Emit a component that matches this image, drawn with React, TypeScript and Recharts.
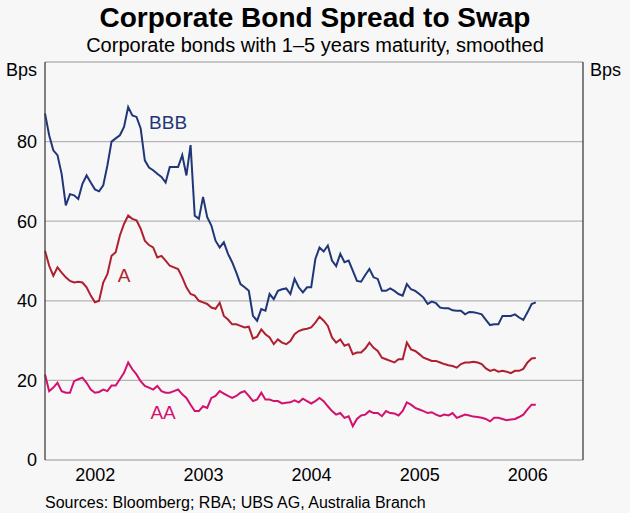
import { LineChart, Line, XAxis, YAxis, CartesianGrid, ReferenceDot } from "recharts";

// Fortnightly observations, first one mid-January 2002
const START_YEAR = 2002.035;
const STEP = 1 / 26;

// Spreads to swap, basis points
const BBB = [
  87.1, 81.6, 77.8, 76.6, 71.9, 64.0, 66.8, 66.5, 65.6, 69.4,
  71.5, 69.7, 68.0, 67.5, 69.0, 74.0, 80.0, 80.8, 81.6, 83.7,
  88.7, 86.6, 86.2, 83.3, 75.3, 73.5, 72.8, 71.9, 71.1, 69.7,
  73.6, 73.6, 73.6, 76.6, 71.5, 79.1, 61.4, 60.6, 66.1, 61.0,
  58.9, 55.1, 53.4, 54.7, 51.8, 49.7, 47.1, 44.2, 43.4, 42.5,
  36.2, 35.0, 37.9, 37.5, 41.7, 40.4, 42.5, 42.9, 43.1, 41.7,
  45.5, 43.4, 42.1, 43.4, 43.4, 50.5, 53.4, 52.4, 53.9, 50.1,
  48.7, 51.8, 49.7, 50.1, 47.6, 45.0, 44.8, 46.5, 48.0, 45.9,
  45.5, 42.5, 42.5, 43.1, 42.5, 41.7, 41.3, 44.2, 42.9, 42.5,
  41.7, 40.8, 39.2, 39.8, 39.4, 38.3, 38.1, 38.1, 37.6, 37.5,
  37.5, 36.6, 37.2, 37.1, 36.9, 36.6, 35.2, 33.9, 34.1, 34.1,
  36.2, 36.2, 36.2, 36.6, 35.8, 35.2, 37.1, 39.2, 39.6,
];

const A_RATED = [
  52.6, 48.8, 46.3, 48.4, 47.1, 45.9, 45.0, 44.6, 44.8, 44.6,
  43.4, 41.3, 39.6, 40.0, 44.6, 46.7, 51.3, 52.2, 56.4, 59.3,
  61.4, 60.6, 60.2, 58.1, 55.1, 54.0, 53.4, 50.9, 51.3, 50.1,
  48.8, 48.4, 48.0, 45.9, 43.4, 41.7, 41.3, 40.0, 39.6, 39.2,
  38.3, 38.0, 39.5, 36.2, 35.3, 34.1, 34.1, 33.7, 33.3, 33.5,
  30.5, 31.0, 32.8, 31.6, 30.8, 29.1, 30.3, 29.5, 29.1, 29.9,
  31.6, 32.4, 32.8, 33.0, 33.3, 34.5, 36.0, 35.0, 33.7, 30.8,
  29.5, 30.3, 28.7, 29.1, 26.6, 27.0, 27.0, 28.0, 29.5, 28.2,
  27.4, 25.7, 25.3, 24.9, 24.5, 25.3, 25.3, 29.5, 27.8, 27.4,
  26.6, 25.7, 25.3, 24.9, 24.9, 24.5, 24.1, 23.8, 23.6, 23.2,
  24.1, 24.5, 24.5, 24.7, 24.5, 24.1, 23.0, 22.4, 22.7, 22.2,
  22.4, 22.2, 21.8, 22.4, 22.4, 22.9, 24.5, 25.5, 25.6,
];

const AA = [
  21.5, 17.3, 18.2, 19.4, 17.3, 16.9, 16.9, 19.8, 20.3, 20.7,
  19.4, 17.7, 16.9, 17.1, 17.7, 17.3, 18.7, 18.7, 20.3, 21.9,
  24.5, 22.8, 21.5, 19.8, 18.6, 18.2, 17.7, 18.6, 17.3, 16.9,
  16.9, 17.3, 17.7, 16.5, 15.6, 13.9, 12.3, 12.3, 13.5, 13.1,
  15.6, 16.1, 17.3, 16.7, 16.1, 15.6, 16.1, 16.9, 17.3, 16.1,
  14.8, 15.2, 16.9, 15.2, 15.2, 14.8, 14.8, 14.2, 14.4, 14.5,
  15.0, 14.5, 15.4, 14.8, 14.2, 14.8, 15.6, 14.8, 13.5, 12.3,
  11.4, 11.8, 10.6, 11.0, 8.5, 10.3, 11.2, 11.4, 12.3, 11.8,
  11.8, 11.0, 12.3, 11.8, 11.7, 11.2, 12.3, 14.5, 13.9, 13.1,
  12.7, 12.3, 11.8, 12.0, 11.4, 11.0, 11.4, 11.2, 11.8, 10.6,
  11.0, 11.4, 11.2, 10.9, 10.8, 10.6, 10.3, 9.7, 10.6, 10.6,
  10.3, 10.0, 10.2, 10.3, 10.8, 11.4, 12.7, 13.9, 13.9,
];

const YEAR_TICKS = [2003, 2004, 2005, 2006];
const YEAR_LABELS = [2002.5, 2003.5, 2004.5, 2005.5, 2006.5];
const Y_TICKS = [0, 20, 40, 60, 80];
const X_DOMAIN: [number, number] = [2002.035, 2007.01];

const NAVY = "#1f3778";
const RED = "#b01f2e";
const PINK = "#d4106f";
const BORDER = "#404040";
const GRID = "#b4b4b4";
const BG = "#f7f7f7";
const FONT = "'Liberation Sans', Arial, sans-serif";

const data = BBB.map((v, i) => ({
  t: START_YEAR + i * STEP,
  bbb: v,
  a: A_RATED[i],
  aa: AA[i],
}));

const tickStyle = { fill: "#000", fontSize: 18 };
const axisLine = { stroke: BORDER, strokeWidth: 1.3 };

const seriesLabel = (value: string, fill: string) => ({
  value,
  position: "center" as const,
  fill,
  fontSize: 19,
});

export default function App() {
  return (
    <div
      style={{
        position: "absolute",
        left: 0,
        top: 0,
        width: 630,
        height: 513,
        background: BG,
        fontFamily: FONT,
        color: "#000",
      }}
    >
      <div style={{ position: "absolute", left: 0, top: 4, width: 630, textAlign: "center", fontSize: 28, lineHeight: "28px", fontWeight: "bold" }}>
        Corporate Bond Spread to Swap
      </div>
      <div style={{ position: "absolute", left: 0, top: 35, width: 630, textAlign: "center", fontSize: 20, lineHeight: "20px" }}>
        Corporate bonds with 1–5 years maturity, smoothed
      </div>
      <div style={{ position: "absolute", left: 6, top: 61, fontSize: 18, lineHeight: "18px" }}>Bps</div>
      <div style={{ position: "absolute", left: 590, top: 61, fontSize: 18, lineHeight: "18px" }}>Bps</div>

      <div style={{ position: "absolute", left: 0, top: 0 }}>
        <LineChart width={630} height={490} data={data} margin={{ top: 62, right: 0, bottom: 0, left: 0 }}>
          <CartesianGrid xAxisId="yr" yAxisId="l" vertical={false} stroke={GRID} strokeWidth={1.3} />
          <XAxis
            xAxisId="yr"
            dataKey="t"
            type="number"
            domain={X_DOMAIN}
            ticks={YEAR_TICKS}
            interval={0}
            height={0}
            tickSize={-9}
            tickFormatter={() => ""}
            axisLine={axisLine}
            tickLine={{ stroke: BORDER, strokeWidth: 1.2 }}
          />
          <XAxis
            xAxisId="lbl"
            dataKey="t"
            type="number"
            domain={X_DOMAIN}
            ticks={YEAR_LABELS}
            interval={0}
            height={30}
            tickLine={false}
            axisLine={false}
            tick={tickStyle}
            tickFormatter={(v: number) => String(Math.floor(v))}
          />
          <XAxis
            xAxisId="top"
            orientation="top"
            dataKey="t"
            type="number"
            domain={X_DOMAIN}
            height={0}
            tick={false}
            tickLine={false}
            axisLine={axisLine}
          />
          <YAxis
            yAxisId="l"
            domain={[0, 100]}
            ticks={Y_TICKS}
            interval={0}
            width={45}
            tickLine={false}
            axisLine={axisLine}
            tick={tickStyle}
          />
          <YAxis
            yAxisId="r"
            orientation="right"
            domain={[0, 100]}
            ticks={Y_TICKS}
            interval={0}
            width={47}
            tickLine={false}
            axisLine={axisLine}
            tick={tickStyle}
          />
          <Line xAxisId="yr" yAxisId="l" dataKey="bbb" stroke={NAVY} strokeWidth={2} dot={false} isAnimationActive={false} />
          <Line xAxisId="yr" yAxisId="l" dataKey="a" stroke={RED} strokeWidth={2} dot={false} isAnimationActive={false} />
          <Line xAxisId="yr" yAxisId="l" dataKey="aa" stroke={PINK} strokeWidth={2} dot={false} isAnimationActive={false} />
          <ReferenceDot xAxisId="yr" yAxisId="l" x={2003.173} y={84.9} r={1} fill="none" stroke="none" label={seriesLabel("BBB", NAVY)} />
          <ReferenceDot xAxisId="yr" yAxisId="l" x={2002.766} y={46.3} r={1} fill="none" stroke="none" label={seriesLabel("A", RED)} />
          <ReferenceDot xAxisId="yr" yAxisId="l" x={2003.127} y={11.9} r={1} fill="none" stroke="none" label={seriesLabel("AA", PINK)} />
        </LineChart>
      </div>

      <div style={{ position: "absolute", left: 45, top: 495, fontSize: 16, lineHeight: "16px" }}>
        Sources: Bloomberg; RBA; UBS AG, Australia Branch
      </div>
    </div>
  );
}
